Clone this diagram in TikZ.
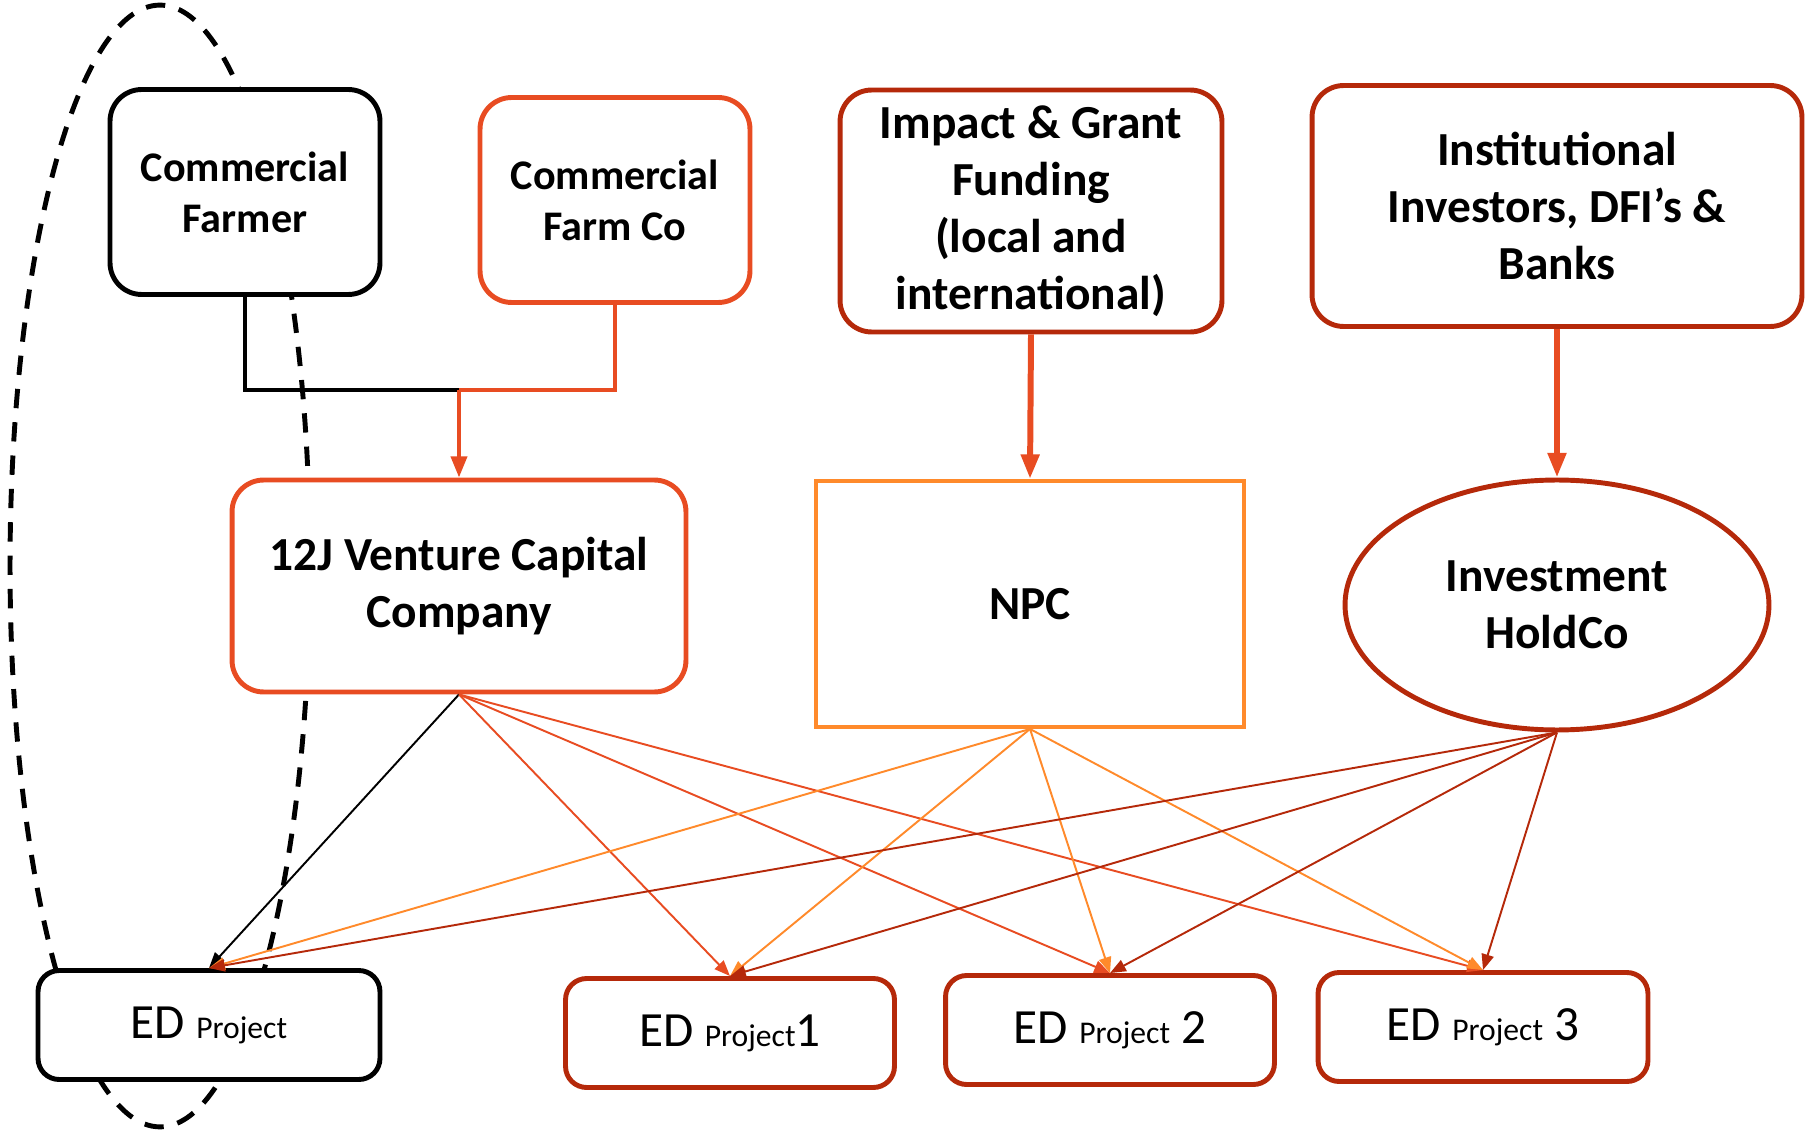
\documentclass[tikz,border=0pt]{standalone}
\usepackage{fontspec}
\setmainfont{Carlito}
\usetikzlibrary{arrows.meta,shapes.geometric,calc}
\definecolor{ored}{HTML}{E84C22}
\definecolor{dred}{HTML}{B5290A}
\definecolor{orng}{HTML}{FF8A2B}
\tikzset{
  rbox/.style={draw, line width=2.8pt, rounded corners=18pt, fill=white, align=center, font=\bfseries\fontsize{24}{29}\selectfont, inner sep=0pt},
  bigtxt/.style={font=\bfseries\fontsize{27}{32.5}\selectfont},
  edbox/.style={draw, line width=2.8pt, rounded corners=12pt, fill=white, align=center, inner sep=0pt, minimum width=6.6cm, minimum height=2.18cm},
  thin/.style={line width=1.1pt, -{Triangle[length=9pt,width=7pt]}},
  thick/.style={line width=3.4pt, -{Triangle[length=14pt,width=10pt]}},
}
\newcommand{\edlabel}[1]{{\fontsize{28}{33}\selectfont ED \fontsize{18}{22}\selectfont Project\fontsize{28}{33}\selectfont #1}}
\begin{document}
\begin{tikzpicture}[x=0.02cm,y=-0.02cm]
\useasboundingbox (0,0) rectangle (1806,1131);
% dashed ellipse
\draw[line width=2.8pt, dash pattern=on 11pt off 8pt] (160,566) ellipse [x radius=3cm, y radius=11.22cm];
% top nodes
\node[rbox, minimum width=5.4cm, minimum height=4.1cm] (cf) at (245,192) {Commercial\\Farmer};
\node[rbox, draw=ored, minimum width=5.4cm, minimum height=4.1cm] (cfc) at (615,200) {Commercial\\Farm Co};
\node[rbox, bigtxt, draw=dred, minimum width=7.64cm, minimum height=4.84cm] (igf) at (1031,211) {Impact \& Grant\\Funding\\(local and\\international)};
\node[rbox, bigtxt, draw=dred, minimum width=9.8cm, minimum height=4.82cm] (inst) at (1557,206) {Institutional\\Investors, DFI’s \&\\Banks};
% middle nodes
\node[rbox, bigtxt, draw=ored, minimum width=9.08cm, minimum height=4.24cm] (vc) at (459,586) {12J Venture Capital\\Company};
\node[draw=orng, line width=2.3pt, fill=white, bigtxt, minimum width=8.58cm, minimum height=4.92cm, inner sep=0pt] (npc) at (1030,604) {NPC};
\node[ellipse, draw=dred, line width=2.8pt, fill=white, bigtxt, align=center, minimum width=8.48cm, minimum height=5cm, inner sep=0pt] (hold) at (1557,605) {Investment\\HoldCo};
% bottom nodes
\node[edbox, minimum width=6.84cm] (ed0) at (209,1025) {\edlabel{}};
\node[edbox, draw=dred, minimum width=6.58cm] (ed1) at (730,1033) {\edlabel{1}};
\node[edbox, draw=dred, minimum width=6.58cm] (ed2) at (1110,1030) {\edlabel{ 2}};
\node[edbox, draw=dred, minimum width=6.6cm] (ed3) at (1483,1027) {\edlabel{ 3}};
% joint to 12J
\coordinate (j) at (459,390);
\draw[line width=2.3pt] (cf.south) |- (j);
\draw[line width=2.3pt, ored] (cfc.south) |- (j);
\draw[line width=2.3pt, ored, -{Triangle[length=12pt,width=9pt]}] (j) -- (vc.north);
% thick arrows
\draw[thick, ored] (igf.south) -- (npc.north);
\draw[thick, ored] (inst.south) -- (hold.north);
% from 12J
\draw[thin, black] (vc.south) -- (ed0.north);
\draw[thin, ored] (vc.south) -- (ed1.north);
\draw[thin, ored] (vc.south) -- (ed2.north);
\draw[thin, ored] (vc.south) -- (ed3.north);
% from NPC
\draw[thin, orng] (npc.south) -- (ed0.north);
\draw[thin, orng] (npc.south) -- (ed1.north);
\draw[thin, orng] (npc.south) -- (ed2.north);
\draw[thin, orng] (npc.south) -- (ed3.north);
% from HoldCo
\draw[thin, dred] (hold.south) -- (ed0.north);
\draw[thin, dred] (hold.south) -- (ed1.north);
\draw[thin, dred] (hold.south) -- (ed2.north);
\draw[thin, dred] (hold.south) -- (ed3.north);
\end{tikzpicture}
\end{document}
